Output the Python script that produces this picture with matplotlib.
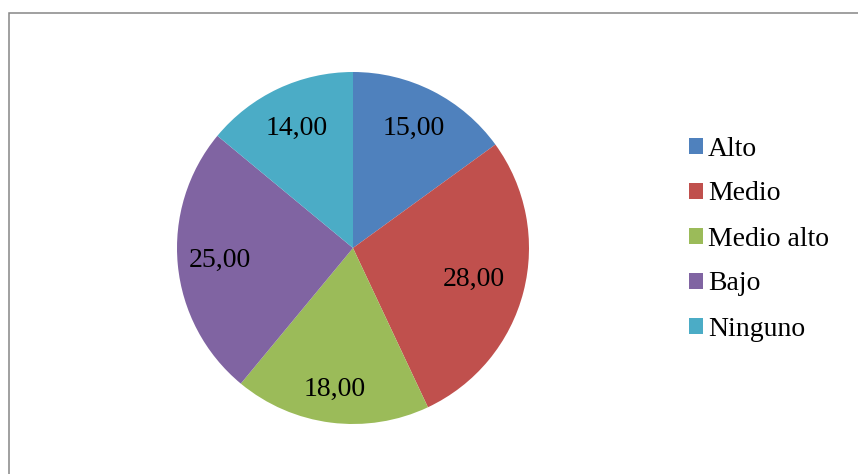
import matplotlib
matplotlib.use("Agg")
import matplotlib.pyplot as plt
import matplotlib.patches as mpatches
import numpy as np

categories = ["Alto", "Medio", "Medio alto", "Bajo", "Ninguno"]
values = [15.00, 28.00, 18.00, 25.00, 14.00]
value_labels = ["15,00", "28,00", "18,00", "25,00", "14,00"]
colors = ["#4F81BD", "#C0504D", "#9BBB59", "#8064A2", "#4BACC6"]
label_dist = [0.76, 0.71, 0.81, 0.76, 0.75]

plt.rcParams['font.family'] = ['Liberation Serif', 'DejaVu Serif']

fig = plt.figure(figsize=(8.58, 4.74), dpi=100)
W, H = 858, 474

# chart border
border = mpatches.Rectangle((8.5 / W, -0.1), 1.2, (474 - 13) / H + 0.1,
                            transform=fig.transFigure, fill=False,
                            edgecolor="#868686", linewidth=1.1)
fig.patches.append(border)

ax = fig.add_axes([177 / W, (474 - 424) / H, 352 / W, 352 / H])
wedges, _ = ax.pie(values, colors=colors, startangle=90, counterclock=False,
                   radius=1.0, wedgeprops=dict(linewidth=0))
ax.set_xlim(-1, 1)
ax.set_ylim(-1, 1)
ax.set_aspect("equal")
ax.axis("off")

for w, lab, d in zip(wedges, value_labels, label_dist):
    ang = np.deg2rad((w.theta1 + w.theta2) / 2)
    ax.text(d * np.cos(ang), d * np.sin(ang), lab, ha="center", va="center",
            fontsize=20, color="black")

handles = [mpatches.Patch(facecolor=c, edgecolor="none") for c in colors]
leg = fig.legend(handles, categories, loc="upper left",
                 bbox_to_anchor=(689 / W, (474 - 136.5) / H),
                 frameon=False, fontsize=20, handlelength=0.5, handleheight=0.5,
                 handletextpad=0.18, labelspacing=0.72, borderpad=0, borderaxespad=0)

fig.savefig("out.png", dpi=100)
